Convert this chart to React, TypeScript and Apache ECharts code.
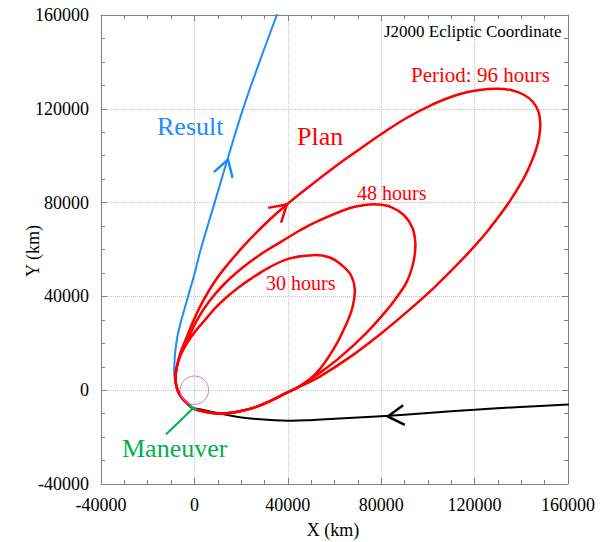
import React, { useEffect, useRef } from 'react';
import * as echarts from 'echarts';

const FONT = 'Liberation Serif';

const X_MIN = -40000;
const X_MAX = 160000;
const Y_MIN = -40000;
const Y_MAX = 160000;
const TICK_STEP = 40000;

// Planned orbit, period 96 hours (km), closed loop
const plan96: number[][] = [
  [-700, -7700], [-3300, -5300], [-5400, -3200], [-7100, -200], [-8000, 3200], [-8000, 7000],
  [-7100, 11700], [-5800, 16400], [-3700, 21600], [-200, 30100], [4000, 38600], [9300, 47200],
  [16000, 55700], [23700, 64300], [32300, 72800], [39600, 79200], [50300, 87700], [60600, 95600],
  [70900, 102900], [81200, 110000], [91400, 116400], [101700, 121700], [112000, 125800],
  [122200, 128000], [129900, 128500], [135900, 127900], [141100, 126000], [144900, 123000],
  [147300, 118900], [148100, 114200], [147700, 108200], [146200, 102300], [143700, 95900],
  [140800, 89900], [134400, 79600], [126500, 69100], [119800, 61200], [112300, 53300],
  [103000, 44100], [92300, 34500], [80100, 24300], [66600, 14100], [53700, 5800], [45100, 1500],
  [38700, -1500], [32300, -4700], [25900, -7300], [19500, -9000], [13900, -9800], [8700, -9800],
  [4500, -9200], [1000, -8300],
];

// Planned orbit, period 48 hours (km), closed loop
const plan48: number[][] = [
  [-700, -7700], [-3300, -5300], [-5400, -3200], [-7100, -200], [-8000, 3200], [-8000, 7000],
  [-7100, 11700], [-5400, 16900], [-3000, 21300], [1000, 29700], [6600, 38200], [13000, 45500],
  [20700, 52300], [28900, 58300], [37900, 63800], [45100, 68100], [52400, 71900], [66600, 77700],
  [73000, 79000], [78300, 79200], [84500, 78000], [89900, 74500], [93400, 69200], [94600, 63000],
  [94300, 57400], [93100, 51900], [91000, 46300], [87800, 41200], [82800, 34600], [73800, 24600],
  [62300, 14000], [52400, 6500], [45100, 1800], [38700, -1500], [32300, -4700], [25900, -7300],
  [19500, -9000], [13900, -9800], [8700, -9800], [4500, -9200], [1000, -8300],
];

// Planned orbit, period 30 hours (km), closed loop
const plan30: number[][] = [
  [-700, -7700], [-3300, -5300], [-5400, -3200], [-7100, -200], [-8000, 3200], [-8000, 7000],
  [-7100, 11700], [-5200, 16400], [-2600, 20900], [600, 25400], [4500, 29900], [8700, 34800],
  [13400, 39300], [18600, 43600], [24600, 47800], [32300, 52500], [40900, 56200], [50700, 57600],
  [58000, 56600], [63600, 52900], [67200, 48700], [68700, 42900], [67800, 35700], [65300, 28800],
  [59700, 17700], [52400, 7500], [45100, 1700], [38700, -1500], [32300, -4700], [25900, -7300],
  [19500, -9000], [13900, -9800], [8700, -9800], [4500, -9200], [1000, -8300],
];

// Actual trajectory after the maneuver (km)
const result: number[][] = [
  [-700, -7700], [-3700, -5300], [-6300, -1900], [-7800, 1900], [-8600, 6200], [-8600, 10500],
  [-8200, 16400], [-7300, 22800], [-5800, 29200], [-4100, 35200], [-2600, 40400], [200, 50200],
  [2700, 60000], [8700, 80100], [14700, 100200], [20900, 120200], [28000, 140300], [35300, 160000],
];

// Incoming trajectory (km)
const incoming: number[][] = [
  [160000, -6100], [139400, -7200], [119900, -8300], [100000, -9700], [79900, -11100],
  [60100, -12200], [49400, -12800], [40000, -13000], [28000, -12400], [19400, -11500],
  [13700, -10500], [6600, -9100], [2300, -8100], [-700, -7700],
];

// Arrow heads: [tipX, tipY, backX, backY]
const arrowBlack: number[][] = [[82800, -11200, 100000, -9700]];
const arrowBlue: number[][] = [[14400, 98400, 8700, 80100]];
const arrowRed: number[][] = [[39600, 79200, 32300, 72800]];

// Earth: [x, y, radius]
const earth: number[][] = [[0, 0, 6100]];

// Maneuver pointer
const maneuverPointer: number[][] = [[-11900, -18600], [-1200, -8300]];
const maneuverMark: number[][] = [[-1800, -6900], [300, -8000]];

const RED = '#ff0000';
const BLUE = '#1a8cff';
const GREEN = '#00b050';
const AXIS = '#808080';

function curveSeries(points: number[][], color: string, width: number, closed: boolean, z: number, smooth: number) {
  return {
    type: 'custom',
    coordinateSystem: 'cartesian2d',
    silent: true,
    z,
    encode: { x: 0, y: 1 },
    data: [[points[0][0], points[0][1]]],
    renderItem: (_params: any, api: any) => ({
      type: closed ? 'polygon' : 'polyline',
      shape: { points: points.map((p) => api.coord(p)), smooth },
      style: { stroke: color, fill: 'none', lineWidth: width, lineJoin: 'round', lineCap: 'round' },
    }),
  };
}

function arrowSeries(color: string, data: number[][], width: number) {
  return {
    type: 'custom',
    coordinateSystem: 'cartesian2d',
    silent: true,
    z: 5,
    encode: { x: [0, 2], y: [1, 3] },
    data,
    renderItem: (_params: any, api: any) => {
      const tip = api.coord([api.value(0), api.value(1)]);
      const back = api.coord([api.value(2), api.value(3)]);
      const ang = Math.atan2(tip[1] - back[1], tip[0] - back[0]);
      const L = 19;
      const h = (31 * Math.PI) / 180;
      const a1 = [tip[0] - L * Math.cos(ang - h), tip[1] - L * Math.sin(ang - h)];
      const a2 = [tip[0] - L * Math.cos(ang + h), tip[1] - L * Math.sin(ang + h)];
      return {
        type: 'polyline',
        shape: { points: [a1, tip, a2] },
        style: { stroke: color, lineWidth: width, fill: 'none' },
      };
    },
  };
}

function makeAxis(dim: 'x' | 'y', position: string, main: boolean) {
  return {
    type: 'value',
    position,
    min: dim === 'x' ? X_MIN : Y_MIN,
    max: dim === 'x' ? X_MAX : Y_MAX,
    interval: TICK_STEP,
    axisLine: { show: true, onZero: false, lineStyle: { color: AXIS, width: 1 } },
    axisTick: { show: true, inside: true, length: 6, lineStyle: { color: AXIS } },
    minorTick: { show: true, splitNumber: 4, length: 4, lineStyle: { color: AXIS } },
    splitLine: main
      ? { show: true, lineStyle: { color: '#c4c4c4', type: 'dotted', width: 1 } }
      : { show: false },
    axisLabel: main
      ? {
          show: true,
          fontSize: 18,
          color: '#000',
          fontFamily: FONT,
          margin: 12,
          showMinLabel: true,
          showMaxLabel: true,
          formatter: (v: number) => String(v),
        }
      : { show: false },
  };
}

function text(x: number, y: number, t: string, size: number, color: string, rotation = 0, align = 'left') {
  return {
    type: 'text',
    x,
    y,
    rotation,
    silent: true,
    z: 10,
    style: {
      text: t,
      fill: color,
      fontSize: size,
      fontFamily: FONT,
      align,
      verticalAlign: 'middle',
    },
  };
}

export default function App() {
  const ref = useRef<HTMLDivElement>(null);
  useEffect(() => {
    document.body.style.margin = '0';
    const chart = echarts.init(ref.current as HTMLDivElement, null, { renderer: 'svg' });
    chart.setOption({
      animation: false,
      backgroundColor: '#ffffff',
      grid: { left: 101, right: 35, top: 15, bottom: 58, containLabel: false },
      xAxis: [makeAxis('x', 'bottom', true), makeAxis('x', 'top', false)],
      yAxis: [makeAxis('y', 'left', true), makeAxis('y', 'right', false)],
      series: [
        curveSeries(incoming, '#000000', 2, false, 2, 0.4),
        curveSeries(result, BLUE, 2, false, 3, 0.4),
        curveSeries(plan96, RED, 2.5, true, 4, 0.4),
        curveSeries(plan48, RED, 2.5, true, 4, 0.4),
        curveSeries(plan30, RED, 2.5, true, 4, 0.4),
        curveSeries(maneuverPointer, GREEN, 2, false, 6, 0),
        curveSeries(maneuverMark, GREEN, 3, false, 6, 0),
        arrowSeries('#000000', arrowBlack, 2.5),
        arrowSeries(BLUE, arrowBlue, 2.5),
        arrowSeries(RED, arrowRed, 2.5),
        {
          type: 'custom',
          coordinateSystem: 'cartesian2d',
          silent: true,
          z: 7,
          encode: { x: 0, y: 1 },
          data: earth,
          renderItem: (_params: any, api: any) => {
            const c = api.coord([api.value(0), api.value(1)]);
            const r = api.size([api.value(2), 0])[0];
            return {
              type: 'circle',
              shape: { cx: c[0], cy: c[1], r },
              style: { stroke: '#cc77ff', fill: 'none', lineWidth: 1 },
            };
          },
        },
      ],
      graphic: [
        text(384, 31, 'J2000 Ecliptic Coordinate', 17, '#000'),
        text(411, 74.5, 'Period: 96 hours', 21, RED),
        text(157, 126, 'Result', 26, BLUE),
        text(297, 136, 'Plan', 26, RED),
        text(357, 192.5, '48 hours', 20, RED),
        text(266, 282.5, '30 hours', 20, RED),
        text(122, 448, 'Maneuver', 26, GREEN),
        text(333, 530, 'X (km)', 18, '#000', 0, 'center'),
        text(33, 251, 'Y (km)', 18, '#000', Math.PI / 2, 'center'),
      ],
    });
    return () => chart.dispose();
  }, []);
  return <div ref={ref} style={{ width: 603, height: 542, background: '#fff' }} />;
}
